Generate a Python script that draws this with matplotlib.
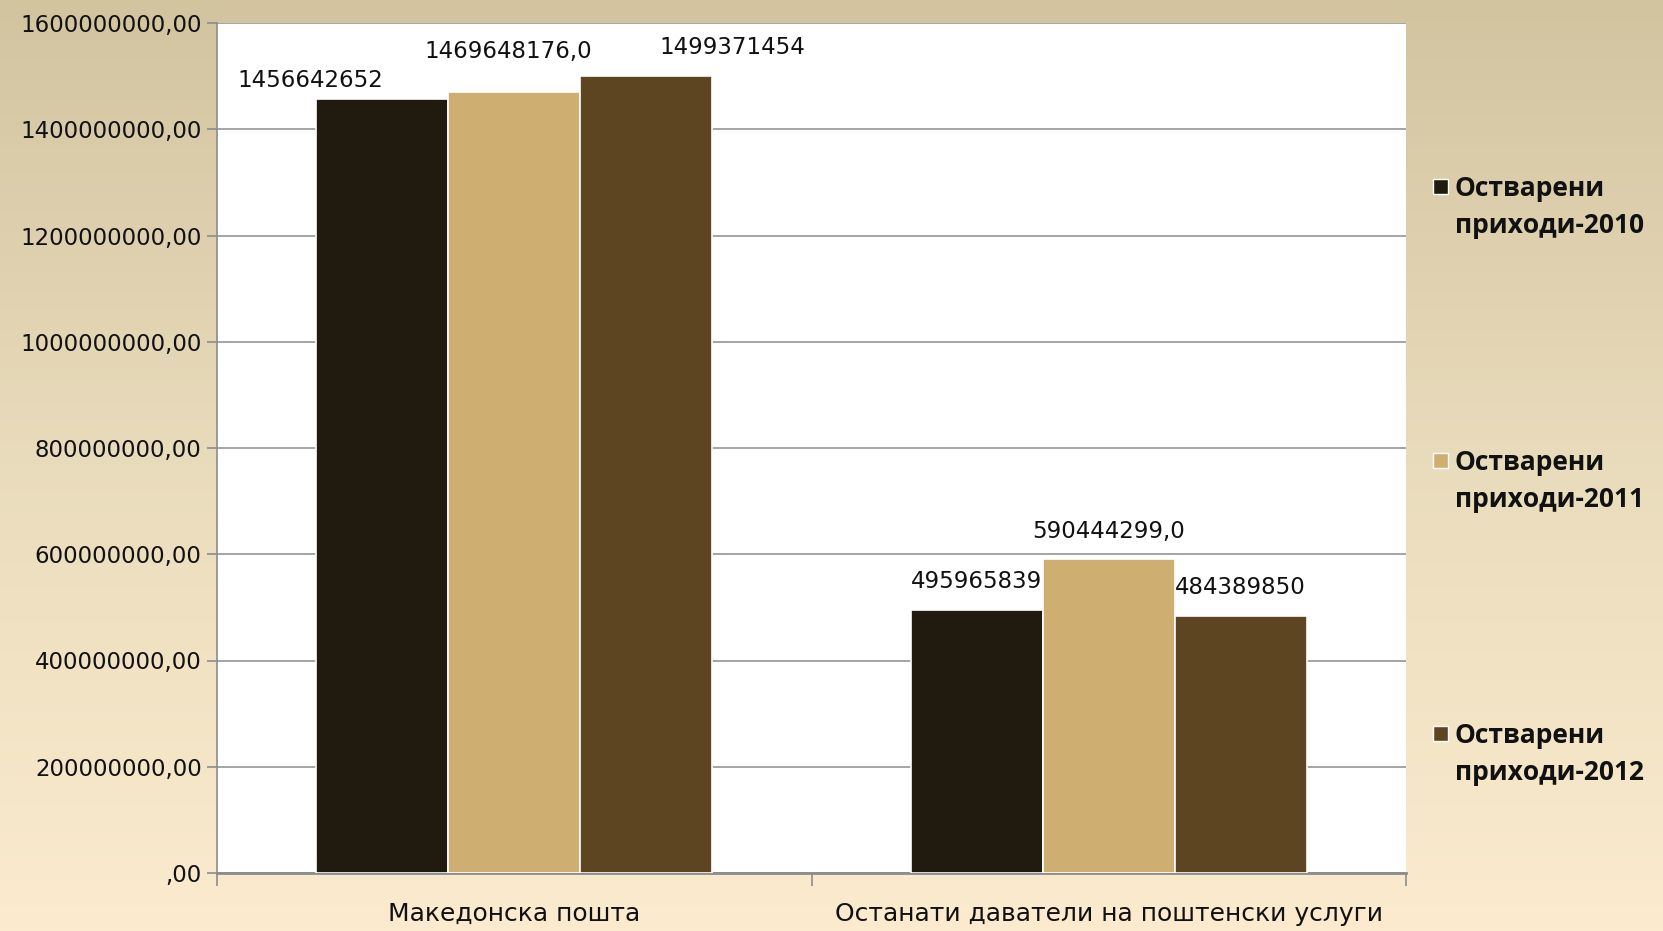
import numpy as np
import matplotlib.pyplot as plt
from matplotlib.colors import LinearSegmentedColormap
from matplotlib.patches import Rectangle
from matplotlib.ticker import FuncFormatter

# data
categories = ["Македонска пошта", "Останати даватели на поштенски услуги"]
series_names = ["Остварени\nприходи-2010", "Остварени\nприходи-2011", "Остварени\nприходи-2012"]
rev_2010 = [1456642652, 495965839]
rev_2011 = [1469648176.0, 590444299.0]
rev_2012 = [1499371454, 484389850]
value_labels = [["1456642652", "495965839"],
                ["1469648176,0", "590444299,0"],
                ["1499371454", "484389850"]]
y_ticks = np.arange(0, 1.6e9 + 1, 2e8)

colors = ["#211a0e", "#cfae72", "#5c4520"]
# label offsets in pixels (x, y of text centre above bar top)
lbl_off = [[(-72, 19), (0, 28)],
           [(-6, 41), (0, 28)],
           [(86, 29), (0, 28)]]

fig = plt.figure(figsize=(16.63, 9.31), dpi=100)

# gradient background
bg = fig.add_axes([0, 0, 1, 1], zorder=-10)
cmap = LinearSegmentedColormap.from_list("bg", ["#d3c4a0", "#e9dcbc", "#fcebcf"])
bg.imshow(np.linspace(0, 1, 256).reshape(-1, 1), aspect="auto", cmap=cmap,
          extent=[0, 1, 0, 1], origin="upper")
bg.axis("off")

ax = fig.add_axes([217 / 1663, 1 - 873 / 931, (1406 - 217) / 1663, (873 - 23) / 931])
ax.set_facecolor("white")

x = np.arange(len(categories))
w = 0.222
all_series = [rev_2010, rev_2011, rev_2012]
for i, vals in enumerate(all_series):
    bars = ax.bar(x + (i - 1) * w, vals, w, color=colors[i], edgecolor="white",
                  linewidth=1.2, zorder=3)
    for j, b in enumerate(bars):
        dx, dy = lbl_off[i][j]
        ax.annotate(value_labels[i][j], (b.get_x() + b.get_width() / 2, b.get_height()),
                    xytext=(dx, dy), textcoords="offset pixels", ha="center", va="center",
                    fontsize=16.5, color="#111111", zorder=4)

ax.set_xlim(-0.5, 1.5)
ax.set_ylim(0, 1.6e9)
ax.set_yticks(y_ticks)
ax.yaxis.set_major_formatter(FuncFormatter(lambda v, p: ("%d,00" % v) if v else ",00"))
ax.tick_params(axis="y", labelsize=16.5, colors="#8c8c8c", labelcolor="#111111",
               length=7, width=1.2, pad=4)
ax.grid(axis="y", color="#8c8c8c", linewidth=1.1, zorder=0)

ax.set_xticks(x)
ax.set_xticklabels(categories, fontsize=18, color="#111111")
ax.set_xticks([-0.5, 0.5, 1.5], minor=True)
ax.tick_params(axis="x", which="major", length=0, pad=21)
ax.tick_params(axis="x", which="minor", length=9, width=1.2, color="#8c8c8c")

for s in ["top", "right"]:
    ax.spines[s].set_visible(False)
ax.spines["left"].set_color("#8c8c8c")
ax.spines["left"].set_linewidth(1.2)
ax.spines["bottom"].set_color("#8c8c8c")
ax.spines["bottom"].set_linewidth(2)
ax.set_axisbelow(True)

# legend drawn by hand
leg_y = [207, 481, 754]
for i, name in enumerate(series_names):
    yc = 1 - leg_y[i] / 931
    fig.patches.append(Rectangle((1433 / 1663, yc + 0.0145), 15 / 1663, 15 / 931,
                                 transform=fig.transFigure, facecolor=colors[i],
                                 edgecolor="white", linewidth=1))
    fig.text(1455 / 1663, yc, name, fontsize=19, fontweight="bold",
             family=["Open Sans", "DejaVu Sans"], color="#111111", va="center",
             ha="left", linespacing=1.45)

fig.savefig("out.png", dpi=100)
